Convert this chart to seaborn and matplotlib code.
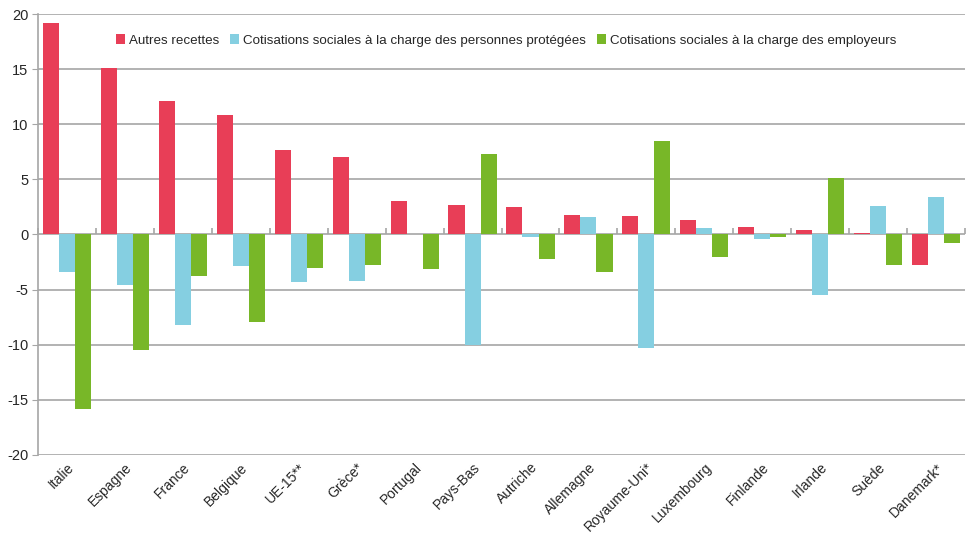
import matplotlib
matplotlib.use("Agg")
import matplotlib.pyplot as plt
import seaborn as sns
import pandas as pd

pays = ["Italie", "Espagne", "France", "Belgique", "UE-15**", "Grèce*", "Portugal",
        "Pays-Bas", "Autriche", "Allemagne", "Royaume-Uni*", "Luxembourg", "Finlande",
        "Irlande", "Suède", "Danemark*"]
autres = [19.2, 15.1, 12.1, 10.8, 7.7, 7.0, 3.0, 2.65, 2.45, 1.8, 1.7, 1.3, 0.66, 0.4, 0.15, -2.8]
cotis_proteges = [-3.4, -4.6, -8.2, -2.9, -4.3, -4.2, 0.0, -10.0, -0.2, 1.6, -10.3, 0.57, -0.45, -5.5, 2.6, 3.4]
cotis_employeurs = [-15.8, -10.5, -3.8, -7.9, -3.0, -2.8, -3.1, 7.3, -2.25, -3.45, 8.5, -2.0, -0.2, 5.1, -2.8, -0.8]
series = ["Autres recettes", "Cotisations sociales à la charge des personnes protégées",
          "Cotisations sociales à la charge des employeurs"]
couleurs = ["#E83E57", "#85CFE1", "#78B728"]
yticks = [-20, -15, -10, -5, 0, 5, 10, 15, 20]

df = pd.DataFrame({
    "pays": pays * 3,
    "serie": [series[0]] * len(pays) + [series[1]] * len(pays) + [series[2]] * len(pays),
    "valeur": autres + cotis_proteges + cotis_employeurs,
})

sns.set_style("white")
plt.rcParams["font.family"] = ["Liberation Sans", "DejaVu Sans"]

fig = plt.figure(figsize=(9.71, 5.39), dpi=100)
ax = fig.add_axes([0.039, 0.156, 0.955, 0.818])

sns.barplot(data=df, x="pays", y="valeur", hue="serie", palette=couleurs,
            hue_order=series, order=pays, width=0.83, ax=ax, legend=True,
            saturation=1, edgecolor="none", linewidth=0, zorder=3)

ax.set_ylim(-20, 20)
ax.set_xlim(-0.5, len(pays) - 0.5)
ax.set_yticks(yticks)
ax.set_yticklabels([str(v) for v in yticks], fontsize=10.5)
ax.yaxis.grid(True, color="#A6A6A6", linewidth=1.2, zorder=0)
ax.set_axisbelow(True)
ax.set_xlabel("")
ax.set_ylabel("")
ax.tick_params(axis="y", length=4, color="#A6A6A6", pad=3, left=True)
ax.tick_params(axis="x", length=0, pad=4)
for lab in ax.get_xticklabels():
    lab.set_rotation(45)
    lab.set_ha("right")
    lab.set_rotation_mode("anchor")
    lab.set_fontsize(10)

for s in ["top", "right", "bottom"]:
    ax.spines[s].set_visible(False)
ax.spines["left"].set_color("#A6A6A6")
ax.spines["left"].set_linewidth(1.2)

# zero axis with category boundary ticks
sec = ax.secondary_xaxis(0.5)
sec.set_xticks([i - 0.5 for i in range(len(pays) + 1)])
sec.set_xticklabels([])
sec.tick_params(axis="x", length=4, color="#A6A6A6", direction="out", width=1.2)
sec.spines["bottom"].set_color("#A6A6A6")
sec.spines["bottom"].set_linewidth(1.2)
for s in ["top", "left", "right"]:
    if s in sec.spines:
        sec.spines[s].set_visible(False)

leg = ax.legend(loc="center", bbox_to_anchor=(0.505, 0.94), ncol=3, frameon=False,
                fontsize=9.6, handlelength=0.7, handleheight=0.7, handletextpad=0.3,
                columnspacing=0.8)

fig.savefig("out.png", dpi=100)
